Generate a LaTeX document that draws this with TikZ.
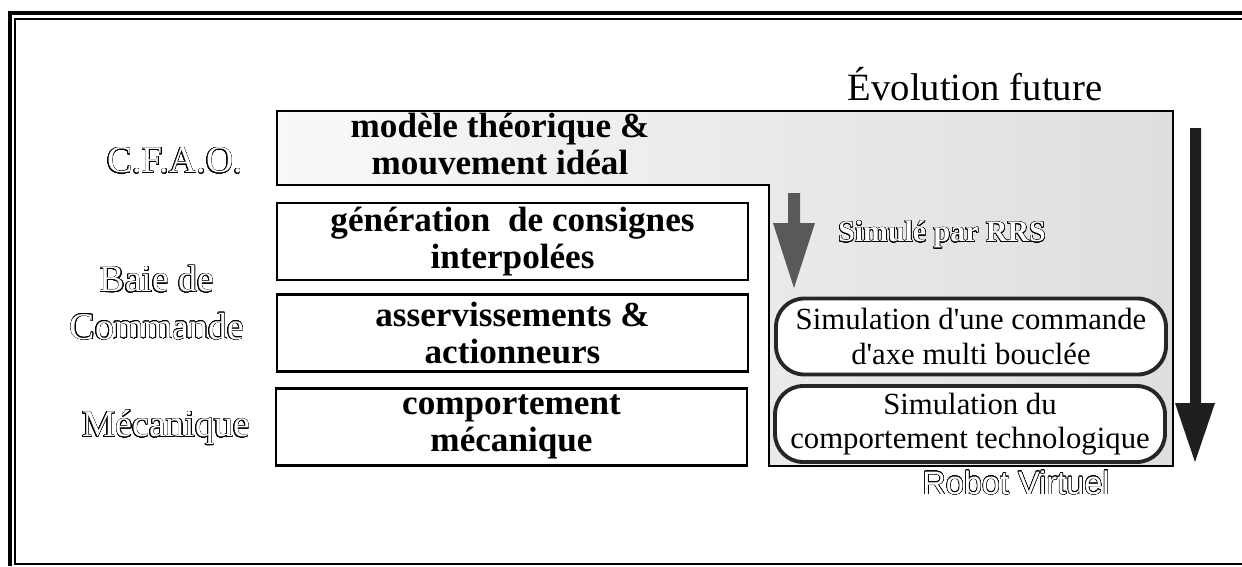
\documentclass[tikz,border=0pt]{standalone}
\usepackage{fontspec}
\setmainfont{Liberation Serif}
\newfontfamily\robotfont{Liberation Sans}
\usepackage{contour}
\contourlength{0.3pt}
\contournumber{24}
\usetikzlibrary{positioning, calc}

\newcommand{\hollow}[1]{\textcolor{white}{\contour{black}{#1}}}

\tikzset{
	layerbox/.style={draw, line width=1.3pt, fill=white, minimum width=9.42cm, minimum height=1.54cm,
			align=center, font=\fontsize{20}{21}\selectfont\bfseries, inner sep=0pt}
}
\tikzset{
	simbox/.style={draw=black!85, line width=2.2pt, fill=white, rounded corners=16pt,
			minimum width=7.8cm, minimum height=1.52cm, align=center,
			font=\fontsize{17.5}{19.5}\selectfont, inner sep=0pt}
}
\tikzset{
	hollowtext/.style={font=\fontsize{21.5}{27}\selectfont, align=center, inner sep=0pt}
}

\begin{document}
\begin{tikzpicture}[x=0.02cm, y=-0.02cm]

	\useasboundingbox (0,0) rectangle (1242,566);

	% cadre
	\draw[line width=2.6pt] (8,13) -- (1242,13);
	\draw[line width=1pt] (14,19) -- (1242,19);
	\draw[line width=2.6pt] (10,13) -- (10,566);
	\draw[line width=1.2pt] (15,19) -- (15,564) -- (1242,564);

	% zone simulee
	\shade[left color=gray!5, right color=gray!26]
	(277,111) -- (1173,111) -- (1173,466) -- (769,466) -- (769,185) -- (277,185) -- cycle;
	\draw[line width=1.3pt]
	(277,111) -- (1173,111) -- (1173,466) -- (769,466) -- (769,185) -- (277,185) -- cycle;

	\node[align=center, font=\fontsize{20}{21}\selectfont\bfseries, inner sep=0pt] (cfao) at (500,144)
	{mod\`ele th\'eorique \&\\ mouvement id\'eal};

	\begin{scope}
		\node[layerbox] (gen) at (512.5,241.5) {g\'en\'eration\ \ de consignes\\ interpol\'ees};
		\node[layerbox] (asserv) at (512.5,333) {asservissements \&\\ actionneurs};
		\node[layerbox] (meca) at (511.5,427) {comportement\\ m\'ecanique};
	\end{scope}

	\begin{scope}
		\node[hollowtext] (lcfao) at (175,161) {\hollow{C.F.A.O.}};
		\node[hollowtext] (lbaie) at (157,303) {\hollow{Baie de}\\ \hollow{Commande}};
		\node[hollowtext] (lmeca) at (166,428) {\hollow{M\'ecanique}};
	\end{scope}

	\node[font=\fontsize{22}{24}\selectfont, inner sep=0pt] (evol) at (975,84) {\'Evolution future};
	\node[font=\fontsize{17}{19}\selectfont\bfseries, inner sep=0pt] (rrs) at (942,235) {\hollow{Simul\'e par RRS}};
	\node[font=\fontsize{18.5}{20}\selectfont\robotfont, inner sep=0pt] (robot) at (1016,483) {\hollow{Robot Virtuel}};

	\begin{scope}
		\node[simbox] (simcmd) at (971,336.5) {Simulation d\textquotesingle une commande\\ d\textquotesingle axe multi boucl\'ee};
		\node[simbox] (simtech) at (970,424) {Simulation du\\ comportement technologique};
	\end{scope}

	% fleches
	\coordinate (petit) at (794,288);
	\coordinate (grand) at (1195,462);
	\fill[black!65] (788,193) -- (800,193) -- (800,223) -- (815,223) -- (petit) -- (773,223) -- (788,223) -- cycle;
	\fill[black!88] (1190,128) -- (1201,128) -- (1201,403) -- (1215,403) -- (grand) -- (1175,403) -- (1190,403) -- cycle;

\end{tikzpicture}
\end{document}
